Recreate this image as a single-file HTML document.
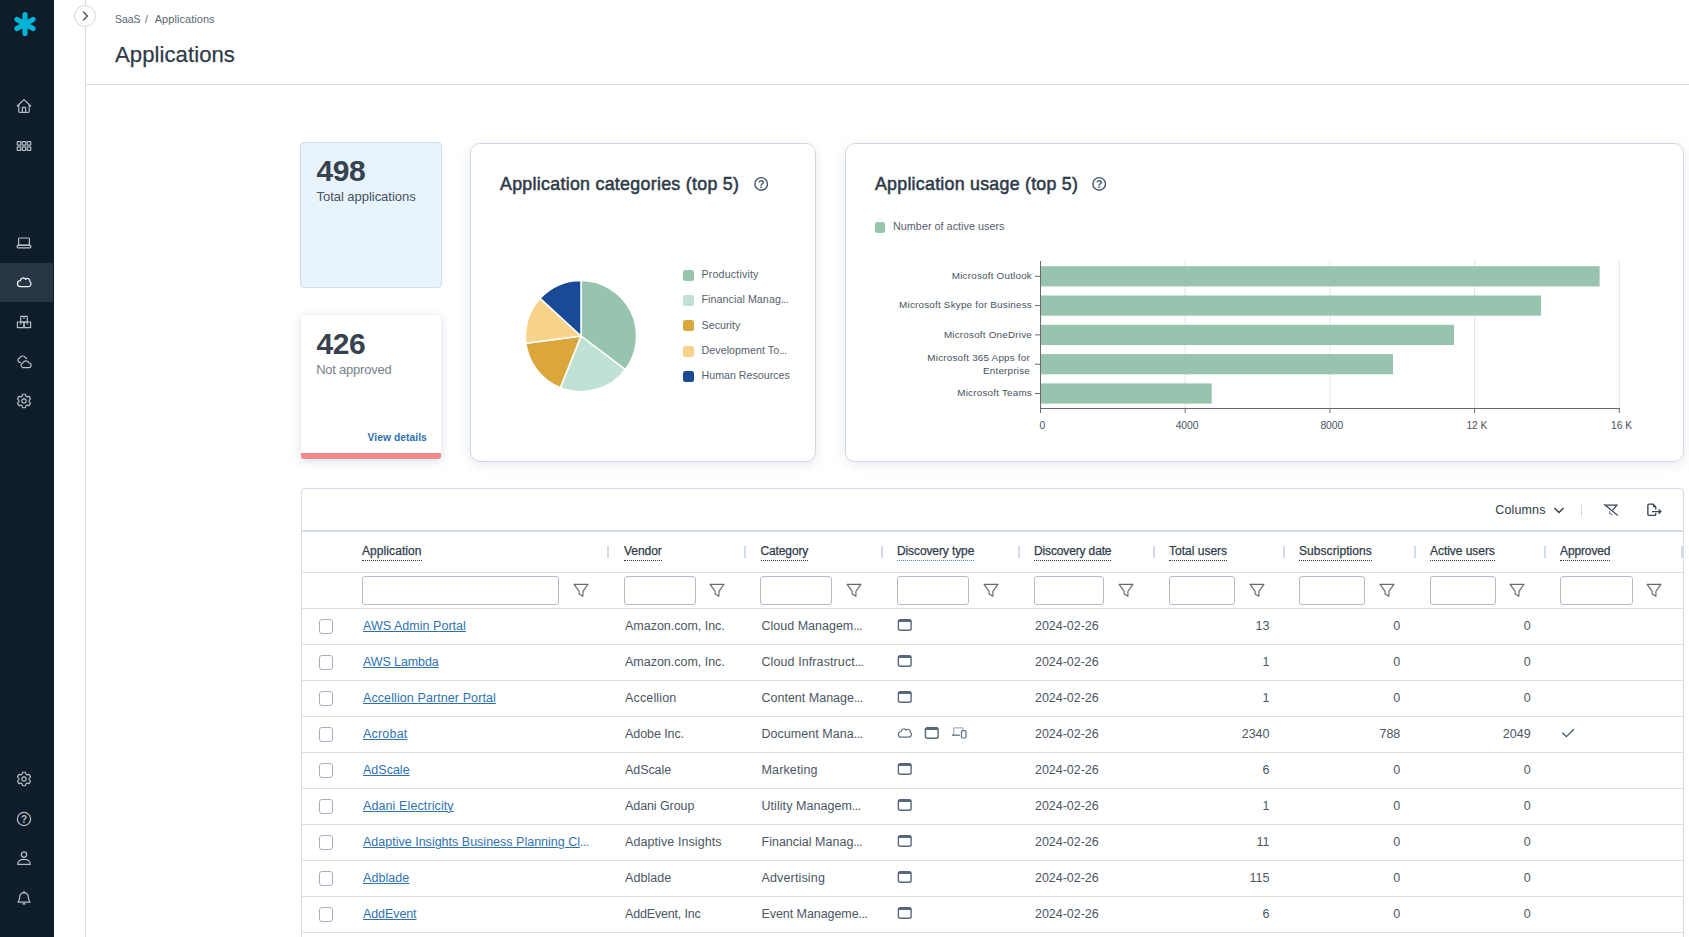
<!DOCTYPE html>
<html><head><meta charset="utf-8">
<style>
*{box-sizing:border-box;margin:0;padding:0}
html,body{width:1689px;height:937px;overflow:hidden;background:#fff;font-family:"Liberation Sans",sans-serif;color:#2f3b49}
.abs{position:absolute}
#side{position:absolute;left:0;top:0;width:54px;height:937px;background:#0f1c2a}
#side .act{position:absolute;left:0;top:263px;width:53px;height:39px;background:#273544}
#side svg{position:absolute;overflow:visible}
#vline{position:absolute;left:85px;top:0;width:1px;height:937px;background:#d3dbe6}
#hline{position:absolute;left:86px;top:84px;width:1603px;height:1px;background:#d3dbe6}
#exp{position:absolute;left:74px;top:5px;width:22px;height:22px;border-radius:50%;background:#fff;border:1px solid #d3dbe6}
.t{position:absolute;white-space:nowrap;line-height:1}
</style></head><body>
<div id="side">
<div class="act"></div><svg style="left:12.5px;top:11px" width="24" height="26" viewBox="-12 -13 24 26" stroke="#00b3d7" stroke-width="5.2" stroke-linecap="round"><path d="M0 -9.4 V9.4 M-8 -4.6 L8 4.6 M-8 4.6 L8 -4.6"/></svg><svg style="left:16px;top:98.0px" width="16" height="16" viewBox="0 0 16 16" fill="none" stroke="#b9bfc7" stroke-width="1.2" stroke-linejoin="round" stroke-linecap="round"><path d="M1.3 8 L8 1.6 L14.7 8"/><path d="M2.8 7 V13.2 Q2.8 14.4 4 14.4 H12 Q13.2 14.4 13.2 13.2 V7"/><path d="M6.4 14.2 V9.4 H9.6 V14.2"/></svg><svg style="left:16px;top:138.0px" width="16" height="16" viewBox="0 0 16 16" fill="none" stroke="#b9bfc7" stroke-width="1.2" stroke-linejoin="round" stroke-linecap="round"><rect x="1.2" y="3.6" width="3.6" height="3.6" rx=".6"/><rect x="6.2" y="3.6" width="3.6" height="3.6" rx=".6"/><rect x="11.2" y="3.6" width="3.6" height="3.6" rx=".6"/><rect x="1.2" y="8.8" width="3.6" height="3.6" rx=".6"/><rect x="6.2" y="8.8" width="3.6" height="3.6" rx=".6"/><rect x="11.2" y="8.8" width="3.6" height="3.6" rx=".6"/></svg><svg style="left:16px;top:235.0px" width="16" height="16" viewBox="0 0 16 16" fill="none" stroke="#b9bfc7" stroke-width="1.2" stroke-linejoin="round" stroke-linecap="round"><rect x="2.6" y="3" width="10.8" height="7.2" rx=".8"/><rect x="1.2" y="10.4" width="13.6" height="2.4" rx=".8"/></svg><svg style="left:15.9px;top:275.5px" width="17.7" height="12.5" viewBox="0 0 17 12" fill="none" stroke="#f2f3f5" stroke-width="1.2" stroke-linejoin="round"><path d="M4.3 10.2 H11.9 A2.7 2.7 0 0 0 13.3 5.3 A2.35 2.35 0 0 0 9.2 3.2 A2.7 2.7 0 0 0 4.2 4.5 A2.85 2.85 0 0 0 4.3 10.2 Z"/></svg><svg style="left:16px;top:314.0px" width="16" height="16" viewBox="0 0 16 16" fill="none" stroke="#b9bfc7" stroke-width="1.2" stroke-linejoin="round" stroke-linecap="round"><rect x="1.4" y="8" width="6.6" height="5.6"/><rect x="8" y="8" width="6.6" height="5.6"/><rect x="4.7" y="2.4" width="6.6" height="5.6"/><path d="M4.7 8 V10 M11.3 8 V10 M8 2.4 V4.4"/></svg><svg style="left:16px;top:354.0px" width="16" height="16" viewBox="0 0 16 16" fill="none" stroke="#b9bfc7" stroke-width="1.2" stroke-linejoin="round" stroke-linecap="round"><path d="M4.6 8.3 H3.6 A2.3 2.3 0 0 1 3.9 3.8 A3 3 0 0 1 9.3 3.6 A2.2 2.2 0 0 1 10.6 4.6"/><path d="M6.9 13.6 H12.6 A2.3 2.3 0 0 0 12.9 9 A3.1 3.1 0 0 0 7.1 8.8 A2.45 2.45 0 0 0 6.9 13.6 Z"/></svg><svg style="left:16px;top:393.0px" width="16" height="16" viewBox="0 0 16 16" fill="none" stroke="#b9bfc7" stroke-width="1.2" stroke-linejoin="round" stroke-linecap="round"><path d="M6.00 3.31 L6.49 1.27 L9.51 1.27 L10.00 3.31 L11.06 3.92 L13.08 3.33 L14.58 5.94 L13.06 7.39 L13.06 8.61 L14.58 10.06 L13.08 12.67 L11.06 12.08 L10.00 12.69 L9.51 14.73 L6.49 14.73 L6.00 12.69 L4.94 12.08 L2.92 12.67 L1.42 10.06 L2.94 8.61 L2.94 7.39 L1.42 5.94 L2.92 3.33 L4.94 3.92 Z"/><circle cx="8" cy="8" r="2.1"/></svg><svg style="left:16px;top:771.0px" width="16" height="16" viewBox="0 0 16 16" fill="none" stroke="#b9bfc7" stroke-width="1.2" stroke-linejoin="round" stroke-linecap="round"><path d="M6.00 3.31 L6.49 1.27 L9.51 1.27 L10.00 3.31 L11.06 3.92 L13.08 3.33 L14.58 5.94 L13.06 7.39 L13.06 8.61 L14.58 10.06 L13.08 12.67 L11.06 12.08 L10.00 12.69 L9.51 14.73 L6.49 14.73 L6.00 12.69 L4.94 12.08 L2.92 12.67 L1.42 10.06 L2.94 8.61 L2.94 7.39 L1.42 5.94 L2.92 3.33 L4.94 3.92 Z"/><circle cx="8" cy="8" r="2.1"/></svg><svg style="left:16px;top:811.0px" width="16" height="16" viewBox="0 0 16 16" fill="none" stroke="#b9bfc7" stroke-width="1.2" stroke-linejoin="round" stroke-linecap="round"><circle cx="8" cy="8" r="6.6"/><text x="8" y="11.6" font-size="10" font-weight="bold" text-anchor="middle" fill="#b9bfc7" stroke="none" font-family="Liberation Sans">?</text></svg><svg style="left:16px;top:850.0px" width="16" height="16" viewBox="0 0 16 16" fill="none" stroke="#b9bfc7" stroke-width="1.2" stroke-linejoin="round" stroke-linecap="round"><circle cx="8" cy="4.6" r="2.7"/><path d="M1.8 14.4 Q1.8 9.4 8 9.4 Q14.2 9.4 14.2 14.4 Z"/></svg><svg style="left:16px;top:890.0px" width="16" height="16" viewBox="0 0 16 16" fill="none" stroke="#b9bfc7" stroke-width="1.2" stroke-linejoin="round" stroke-linecap="round"><path d="M2 12.2 H14 Q12.4 10.6 12.4 7.6 Q12.4 3.2 8 2.6 Q3.6 3.2 3.6 7.6 Q3.6 10.6 2 12.2 Z"/><path d="M6.6 13.8 H9.4 M8 1.4 V2.4"/></svg>
</div>
<div id="vline"></div><div id="hline"></div>
<div id="exp"><svg width="20" height="20" viewBox="0 0 20 20" style="position:absolute;left:0;top:0"><path d="M8.2 5.6 L12.4 10 L8.2 14.4" fill="none" stroke="#3a4654" stroke-width="1.3"/></svg></div>
<div class="t" id="bc1" style="letter-spacing:-0.047px;/*fit*/left:115px;top:14px;font-size:10.5px;color:#5b6672">SaaS</div>
<div class="t" id="bc2" style="left:145px;top:14px;font-size:10.5px;color:#5b6672">/</div>
<div class="t" id="bc3" style="letter-spacing:0.056px;/*fit*/left:154.7px;top:13.7px;font-size:11px;color:#5b6672">Applications</div>
<div class="t" id="title" style="letter-spacing:0.051px;/*fit*/left:115px;top:44px;font-size:22.15px;-webkit-text-stroke:.25px #2f3b49;color:#2f3b49">Applications</div>

<style>
#c1{position:absolute;left:300px;top:142px;width:142px;height:146px;background:#e9f3fc;border:1px solid #d3deea;border-radius:4px}
#c2{position:absolute;left:301px;top:315px;width:140px;height:144px;background:#fff;border-radius:3px;box-shadow:0 2px 10px rgba(60,80,130,.2);overflow:hidden}
#c2 .bar{position:absolute;left:0;bottom:0;width:100%;height:5.6px;background:#f0898c}
.card{position:absolute;background:#fff;border:1px solid #d3d9e2;border-radius:10px;box-shadow:0 3px 12px rgba(70,90,130,.13)}
.big{font-size:30px;letter-spacing:-.45px;font-weight:bold;color:#37424f}
.h2{font-size:17.8px;font-weight:normal;color:#2f3b49;-webkit-text-stroke:.55px #2f3b49}
.leg{font-size:10.7px;color:#56616d}
.sw{position:absolute;width:11px;height:11px;border-radius:2.5px}
</style>
<div id="c1"></div>
<div class="t big" id="n498" style="left:316.5px;top:156.3px">498</div>
<div class="t" id="ta" style="letter-spacing:-0.035px;/*fit*/left:316.5px;top:189.6px;font-size:13px;color:#47525e">Total applications</div>
<div id="c2"><div class="bar"></div></div>
<div class="t big" id="n426" style="left:316.5px;top:328.6px">426</div>
<div class="t" id="na" style="letter-spacing:-0.230px;/*fit*/left:316.2px;top:362.5px;font-size:13px;color:#77818c">Not approved</div>
<div class="t" id="vd" style="letter-spacing:0.036px;/*fit*/left:367.6px;top:432.8px;font-size:10.3px;font-weight:bold;color:#2f6fb0">View details</div>

<div class="card" id="pc" style="left:470px;top:143px;width:346px;height:319px"></div>
<div class="t h2" id="pt" style="letter-spacing:0.297px;/*fit*/left:500px;top:176px">Application categories (top 5)</div>
<svg class="abs" style="left:753px;top:176px" width="16" height="16" viewBox="0 0 16 16"><circle cx="8.2" cy="7.9" r="6.3" fill="none" stroke="#46566a" stroke-width="1.4"/><text x="8.2" y="11.5" font-size="10.5" font-weight="bold" text-anchor="middle" fill="#46566a" font-family="Liberation Sans">?</text></svg>
<svg class="abs" id="pie" style="left:520.7px;top:276.1px" width="120" height="120" viewBox="-60 -60 120 120"><path d="M0 0 L0.00 -55.60 A55.6 55.6 0 0 1 44.29 33.62 Z" fill="#96c4ae" stroke="#fff" stroke-width="1.5" stroke-linejoin="round"/><path d="M0 0 L44.29 33.62 A55.6 55.6 0 0 1 -20.65 51.62 Z" fill="#bfe2d4" stroke="#fff" stroke-width="1.5" stroke-linejoin="round"/><path d="M0 0 L-20.65 51.62 A55.6 55.6 0 0 1 -55.12 7.26 Z" fill="#dba63c" stroke="#fff" stroke-width="1.5" stroke-linejoin="round"/><path d="M0 0 L-55.12 7.26 A55.6 55.6 0 0 1 -40.93 -37.63 Z" fill="#f6d28a" stroke="#fff" stroke-width="1.5" stroke-linejoin="round"/><path d="M0 0 L-40.93 -37.63 A55.6 55.6 0 0 1 -0.00 -55.60 Z" fill="#184a98" stroke="#fff" stroke-width="1.5" stroke-linejoin="round"/></svg>
<div class="sw" style="left:683px;top:270px;background:#96c4ae"></div><div class="t leg" id="l1" style="letter-spacing:0.154px;/*fit*/left:701.5px;top:269px">Productivity</div>
<div class="sw" style="left:683px;top:295px;background:#bfe2d4"></div><div class="t leg" id="l2" style="letter-spacing:0.065px;/*fit*/left:701.5px;top:294px">Financial Manag<span style="letter-spacing:-.6px">...</span></div>
<div class="sw" style="left:683px;top:320px;background:#dba63c"></div><div class="t leg" id="l3" style="letter-spacing:0.036px;/*fit*/left:701.5px;top:320px">Security</div>
<div class="sw" style="left:683px;top:345.8px;background:#f6d28a"></div><div class="t leg" id="l4" style="letter-spacing:0.050px;/*fit*/left:701.5px;top:345px">Development To<span style="letter-spacing:-.6px">...</span></div>
<div class="sw" style="left:683px;top:371px;background:#184a98"></div><div class="t leg" id="l5" style="letter-spacing:-0.008px;/*fit*/left:701.5px;top:370px">Human Resources</div>

<div class="card" id="bcard" style="left:845px;top:143px;width:839px;height:319px"></div>
<div class="t h2" id="bt" style="letter-spacing:0.259px;/*fit*/left:875px;top:176px">Application usage (top 5)</div>
<svg class="abs" style="left:1091px;top:176px" width="16" height="16" viewBox="0 0 16 16"><circle cx="8.2" cy="7.9" r="6.3" fill="none" stroke="#46566a" stroke-width="1.4"/><text x="8.2" y="11.5" font-size="10.5" font-weight="bold" text-anchor="middle" fill="#46566a" font-family="Liberation Sans">?</text></svg>
<div class="sw" style="left:875px;top:222px;width:10px;background:#96c4ae"></div><div class="t leg" id="bl" style="letter-spacing:0.022px;/*fit*/left:893px;top:221px;font-size:10.8px">Number of active users</div>
<svg class="abs" style="left:0;top:0" width="1689" height="937"><rect x="1184.7" y="261" width="1" height="147" fill="#e0e3e9"/><rect x="1329.4" y="261" width="1" height="147" fill="#e0e3e9"/><rect x="1474.1" y="261" width="1" height="147" fill="#e0e3e9"/><rect x="1618.8" y="261" width="1" height="147" fill="#e0e3e9"/><rect x="1041" y="266.2" width="558.6" height="20.2" fill="#97c4ae"/><rect x="1035" y="275.8" width="6" height="1" fill="#6a6a6a"/><rect x="1041" y="295.5" width="500.0" height="20.2" fill="#97c4ae"/><rect x="1035" y="305.1" width="6" height="1" fill="#6a6a6a"/><rect x="1041" y="324.8" width="413.0" height="20.2" fill="#97c4ae"/><rect x="1035" y="334.4" width="6" height="1" fill="#6a6a6a"/><rect x="1041" y="354.1" width="352.0" height="20.2" fill="#97c4ae"/><rect x="1035" y="363.7" width="6" height="1" fill="#6a6a6a"/><rect x="1041" y="383.4" width="170.7" height="20.2" fill="#97c4ae"/><rect x="1035" y="393.0" width="6" height="1" fill="#6a6a6a"/><rect x="1040" y="261" width="1" height="148" fill="#6a6a6a"/><rect x="1040" y="408" width="580" height="1" fill="#6a6a6a"/><rect x="1040.0" y="408" width="1" height="5" fill="#6a6a6a"/><rect x="1184.7" y="408" width="1" height="5" fill="#6a6a6a"/><rect x="1329.4" y="408" width="1" height="5" fill="#6a6a6a"/><rect x="1474.1" y="408" width="1" height="5" fill="#6a6a6a"/><rect x="1618.8" y="408" width="1" height="5" fill="#6a6a6a"/></svg><style>.yl{position:absolute;right:657px;text-align:right;font-size:9.9px;letter-spacing:.2px;color:#47525e;line-height:13px;white-space:nowrap}.xl{position:absolute;font-size:10.3px;color:#47525e;top:421.2px;white-space:nowrap;line-height:1;letter-spacing:-.05px}</style><div class="yl" id="yl0" style="top:269.2px">Microsoft Outlook</div><div class="yl" id="yl1" style="top:297.9px">Microsoft Skype for Business</div><div class="yl" id="yl2" style="top:327.8px">Microsoft OneDrive</div><div class="yl" id="yl3" style="top:350.9px;right:659px">Microsoft 365 Apps for<br>Enterprise</div><div class="yl" id="yl4" style="top:386.4px">Microsoft Teams</div><div class="xl" id="xl0" style="left:1039.5px">0</div><div class="xl" id="xl1" style="left:1175.7px">4000</div><div class="xl" id="xl2" style="left:1320.4px">8000</div><div class="xl" id="xl3" style="left:1466.4px">12 K</div><div class="xl" id="xl4" style="left:1611px">16 K</div>

<style>
#tbl{position:absolute;left:301px;top:488px;width:1383px;height:460px;border:1px solid #d3dbe6;border-radius:4px 4px 0 0;background:#fff}
.hl{position:absolute;left:302px;width:1381px;height:1px;background:#d9dfe8}
.sep{position:absolute;top:546px;width:2px;height:12px;background:#d3dbe8}
.th{position:absolute;top:544px;font-size:12px;color:#2f3b49;white-space:nowrap;line-height:14px;border-bottom:1px dotted #2f3b49;padding-bottom:2px;-webkit-text-stroke:.25px #2f3b49}
.fi{position:absolute;top:576px;height:29px;border:1px solid #b3bcc8;border-radius:3px;background:#fff}
.fic{position:absolute;top:583px}
.cb{position:absolute;left:319px;width:14px;height:14.5px;border:1px solid #a3b0be;border-radius:3px;background:#fff}
.td{position:absolute;font-size:12.5px;color:#4b5663;white-space:nowrap;line-height:16px}
.lk{color:#2f72b0;text-decoration:underline;text-decoration-thickness:1px;text-underline-offset:1.2px}
.num{text-align:right}
</style>
<div id="tbl"></div>
<div class="hl" style="top:530px;height:2px;background:#d3dbe6"></div>
<div class="hl" style="top:572px"></div>
<div class="hl" style="top:608px"></div>
<div class="t" id="cols" style="letter-spacing:0.139px;/*fit*/left:1495.3px;top:503.8px;font-size:12.5px;color:#2f3b49">Columns</div>
<svg class="abs" style="left:1553px;top:505px" width="12" height="10" viewBox="0 0 12 10"><path d="M1.5 3 L6 7.5 L10.5 3" fill="none" stroke="#2f3b49" stroke-width="1.4"/></svg>
<div class="abs" style="left:1581px;top:503px;width:1px;height:14px;background:#d3dbe6"></div>
<svg class="abs" id="icf" style="left:1602px;top:502px" width="17" height="17" viewBox="0 0 17 17" fill="none" stroke="#36424f" stroke-width="1.2"><path d="M3.9 3.2 H14.9 L10.6 8.4"/><path d="M7.6 9.2 V11.4 L10.4 12.8" stroke="#7a8490"/><path d="M2.1 2.2 L15.9 13.6"/></svg>
<svg class="abs" id="ice" style="left:1645px;top:501px" width="18" height="17" viewBox="0 0 18 17" fill="none" stroke="#36424f" stroke-width="1.3"><path d="M10.75 11.9 V13.2 Q10.75 14.45 9.5 14.45 H4.1 Q2.85 14.45 2.85 13.2 V4.4 Q2.85 3.15 4.1 3.15 H8.2 L10.75 5.9 V8.6"/><path d="M8.2 3.4 V5.9 H10.5 Z" fill="#36424f" stroke-width=".6"/><path d="M6.9 10.6 H15.6 M13.6 8.4 L15.9 10.6 L13.6 12.8"/></svg>
<div class="th" id="th0" style="letter-spacing:0.080px;/*fit*/left:362.0px">Application</div><div class="sep" style="left:607.0px"></div><div class="fi" style="left:362.0px;width:197px"></div><svg class="fic" style="left:572.5px" width="16" height="15" viewBox="0 0 16 15"><path d="M1.1 1.4 H14.9 L9.9 8.4 V13.2 L6.1 10.9 V8.4 Z" fill="none" stroke="#686868" stroke-width="1.15" stroke-linejoin="round"/></svg><div class="th" id="th1" style="letter-spacing:-0.058px;/*fit*/left:624.0px">Vendor</div><div class="sep" style="left:744.0px"></div><div class="fi" style="left:624.0px;width:72px"></div><svg class="fic" style="left:709.0px" width="16" height="15" viewBox="0 0 16 15"><path d="M1.1 1.4 H14.9 L9.9 8.4 V13.2 L6.1 10.9 V8.4 Z" fill="none" stroke="#686868" stroke-width="1.15" stroke-linejoin="round"/></svg><div class="th" id="th2" style="letter-spacing:-0.125px;/*fit*/left:760.5px">Category</div><div class="sep" style="left:881.0px"></div><div class="fi" style="left:760px;width:72px"></div><svg class="fic" style="left:845.7px" width="16" height="15" viewBox="0 0 16 15"><path d="M1.1 1.4 H14.9 L9.9 8.4 V13.2 L6.1 10.9 V8.4 Z" fill="none" stroke="#686868" stroke-width="1.15" stroke-linejoin="round"/></svg><div class="th" id="th3" style="border-bottom-color:#4a7fc0;letter-spacing:-0.107px;/*fit*/left:897.0px">Discovery type</div><div class="sep" style="left:1018.0px"></div><div class="fi" style="left:897.0px;width:72px"></div><svg class="fic" style="left:983.0px" width="16" height="15" viewBox="0 0 16 15"><path d="M1.1 1.4 H14.9 L9.9 8.4 V13.2 L6.1 10.9 V8.4 Z" fill="none" stroke="#686868" stroke-width="1.15" stroke-linejoin="round"/></svg><div class="th" id="th4" style="letter-spacing:-0.141px;/*fit*/left:1034.0px">Discovery date</div><div class="sep" style="left:1153.0px"></div><div class="fi" style="left:1034.0px;width:70px"></div><svg class="fic" style="left:1118.0px" width="16" height="15" viewBox="0 0 16 15"><path d="M1.1 1.4 H14.9 L9.9 8.4 V13.2 L6.1 10.9 V8.4 Z" fill="none" stroke="#686868" stroke-width="1.15" stroke-linejoin="round"/></svg><div class="th" id="th5" style="letter-spacing:0.006px;/*fit*/left:1169.0px">Total users</div><div class="sep" style="left:1283.0px"></div><div class="fi" style="left:1169.0px;width:66px"></div><svg class="fic" style="left:1248.5px" width="16" height="15" viewBox="0 0 16 15"><path d="M1.1 1.4 H14.9 L9.9 8.4 V13.2 L6.1 10.9 V8.4 Z" fill="none" stroke="#686868" stroke-width="1.15" stroke-linejoin="round"/></svg><div class="th" id="th6" style="letter-spacing:0.058px;/*fit*/left:1299.0px">Subscriptions</div><div class="sep" style="left:1414.0px"></div><div class="fi" style="left:1299.0px;width:66px"></div><svg class="fic" style="left:1379.0px" width="16" height="15" viewBox="0 0 16 15"><path d="M1.1 1.4 H14.9 L9.9 8.4 V13.2 L6.1 10.9 V8.4 Z" fill="none" stroke="#686868" stroke-width="1.15" stroke-linejoin="round"/></svg><div class="th" id="th7" style="letter-spacing:-0.047px;/*fit*/left:1430.0px">Active users</div><div class="sep" style="left:1544.0px"></div><div class="fi" style="left:1430.0px;width:66px"></div><svg class="fic" style="left:1509.4px" width="16" height="15" viewBox="0 0 16 15"><path d="M1.1 1.4 H14.9 L9.9 8.4 V13.2 L6.1 10.9 V8.4 Z" fill="none" stroke="#686868" stroke-width="1.15" stroke-linejoin="round"/></svg><div class="th" id="th8" style="letter-spacing:-0.122px;/*fit*/left:1560.0px">Approved</div><div class="sep" style="left:1681.0px"></div><div class="fi" style="left:1560.0px;width:73px"></div><svg class="fic" style="left:1646.0px" width="16" height="15" viewBox="0 0 16 15"><path d="M1.1 1.4 H14.9 L9.9 8.4 V13.2 L6.1 10.9 V8.4 Z" fill="none" stroke="#686868" stroke-width="1.15" stroke-linejoin="round"/></svg><div class="hl" style="top:644px"></div><div class="cb" style="top:619.3px"></div><div class="td lk" id="r0c0" style="letter-spacing:0.034px;/*fit*/left:363px;top:618px">AWS Admin Portal</div><div class="td" id="r0c1" style="letter-spacing:-0.015px;/*fit*/left:625px;top:618px">Amazon.com, Inc.</div><div class="td" id="r0c2" style="letter-spacing:0.004px;/*fit*/left:761.5px;top:618px">Cloud Managem<span style="letter-spacing:-.6px">...</span></div><svg class="abs" style="left:897.2px;top:618.2px" width="16" height="14" viewBox="0 0 16 14"><rect x="1.4" y="1.6" width="12.7" height="10.6" rx="1.8" fill="none" stroke="#56677a" stroke-width="1.4"/><path d="M1.4 3.9 V3.4 Q1.4 1.6 3.2 1.6 H12.3 Q14.1 1.6 14.1 3.4 V3.9 Z" fill="#56677a"/></svg><div class="td" id="r0c4" style="letter-spacing:-0.035px;/*fit*/left:1035px;top:618px">2024-02-26</div><div class="td num" id="r0c5" style="right:419.5px;top:618px">13</div><div class="td num" id="r0c6" style="right:288.7px;top:618px">0</div><div class="td num" id="r0c7" style="right:158.4px;top:618px">0</div><div class="hl" style="top:680px"></div><div class="cb" style="top:655.3px"></div><div class="td lk" id="r1c0" style="letter-spacing:-0.106px;/*fit*/left:363px;top:654px">AWS Lambda</div><div class="td" id="r1c1" style="letter-spacing:-0.015px;/*fit*/left:625px;top:654px">Amazon.com, Inc.</div><div class="td" id="r1c2" style="letter-spacing:0.093px;/*fit*/left:761.5px;top:654px">Cloud Infrastruct<span style="letter-spacing:-.6px">...</span></div><svg class="abs" style="left:897.2px;top:654.2px" width="16" height="14" viewBox="0 0 16 14"><rect x="1.4" y="1.6" width="12.7" height="10.6" rx="1.8" fill="none" stroke="#56677a" stroke-width="1.4"/><path d="M1.4 3.9 V3.4 Q1.4 1.6 3.2 1.6 H12.3 Q14.1 1.6 14.1 3.4 V3.9 Z" fill="#56677a"/></svg><div class="td" id="r1c4" style="letter-spacing:-0.035px;/*fit*/left:1035px;top:654px">2024-02-26</div><div class="td num" id="r1c5" style="right:419.5px;top:654px">1</div><div class="td num" id="r1c6" style="right:288.7px;top:654px">0</div><div class="td num" id="r1c7" style="right:158.4px;top:654px">0</div><div class="hl" style="top:716px"></div><div class="cb" style="top:691.3px"></div><div class="td lk" id="r2c0" style="letter-spacing:0.095px;/*fit*/left:363px;top:690px">Accellion Partner Portal</div><div class="td" id="r2c1" style="letter-spacing:0.152px;/*fit*/left:625px;top:690px">Accellion</div><div class="td" id="r2c2" style="letter-spacing:0.002px;/*fit*/left:761.5px;top:690px">Content Manage<span style="letter-spacing:-.6px">...</span></div><svg class="abs" style="left:897.2px;top:690.2px" width="16" height="14" viewBox="0 0 16 14"><rect x="1.4" y="1.6" width="12.7" height="10.6" rx="1.8" fill="none" stroke="#56677a" stroke-width="1.4"/><path d="M1.4 3.9 V3.4 Q1.4 1.6 3.2 1.6 H12.3 Q14.1 1.6 14.1 3.4 V3.9 Z" fill="#56677a"/></svg><div class="td" id="r2c4" style="letter-spacing:-0.035px;/*fit*/left:1035px;top:690px">2024-02-26</div><div class="td num" id="r2c5" style="right:419.5px;top:690px">1</div><div class="td num" id="r2c6" style="right:288.7px;top:690px">0</div><div class="td num" id="r2c7" style="right:158.4px;top:690px">0</div><div class="hl" style="top:752px"></div><div class="cb" style="top:727.3px"></div><div class="td lk" id="r3c0" style="letter-spacing:0.201px;/*fit*/left:363px;top:726px">Acrobat</div><div class="td" id="r3c1" style="letter-spacing:-0.077px;/*fit*/left:625px;top:726px">Adobe Inc.</div><div class="td" id="r3c2" style="letter-spacing:0.047px;/*fit*/left:761.5px;top:726px">Document Mana<span style="letter-spacing:-.6px">...</span></div><svg class="abs" style="left:897px;top:727px" width="17" height="12" viewBox="0 0 17 12"><path d="M4.3 10.2 H11.9 A2.7 2.7 0 0 0 13.3 5.3 A2.35 2.35 0 0 0 9.2 3.2 A2.7 2.7 0 0 0 4.2 4.5 A2.85 2.85 0 0 0 4.3 10.2 Z" fill="none" stroke="#5d6e80" stroke-width="1.2"/></svg><svg class="abs" style="left:923.9px;top:726px" width="16" height="14" viewBox="0 0 16 14"><rect x="1.4" y="1.6" width="12.7" height="10.6" rx="1.8" fill="none" stroke="#56677a" stroke-width="1.4"/><path d="M1.4 3.9 V3.4 Q1.4 1.6 3.2 1.6 H12.3 Q14.1 1.6 14.1 3.4 V3.9 Z" fill="#56677a"/></svg><svg class="abs" style="left:951px;top:726px" width="17" height="14" viewBox="0 0 17 14"><path d="M2.7 9 V2.6 Q2.7 1.8 3.5 1.8 H11 Q11.9 1.8 11.9 2.6 V4" fill="none" stroke="#a3adb9" stroke-width="1.2"/><path d="M1 9.2 H8.8" stroke="#5d6e80" stroke-width="1.3"/><rect x="10.5" y="4.7" width="4.5" height="7.3" rx="1.1" fill="#fff" stroke="#5d6e80" stroke-width="1.2"/></svg><div class="td" id="r3c4" style="letter-spacing:-0.035px;/*fit*/left:1035px;top:726px">2024-02-26</div><div class="td num" id="r3c5" style="right:419.5px;top:726px">2340</div><div class="td num" id="r3c6" style="right:288.7px;top:726px">788</div><div class="td num" id="r3c7" style="right:158.4px;top:726px">2049</div><svg class="abs" style="left:1561px;top:728px" width="14" height="12" viewBox="0 0 14 12"><path d="M1.4 4.7 L5.4 8.7 L12.9 1.2" fill="none" stroke="#46566a" stroke-width="1.3"/></svg><div class="hl" style="top:788px"></div><div class="cb" style="top:763.3px"></div><div class="td lk" id="r4c0" style="letter-spacing:0.005px;/*fit*/left:363px;top:762px">AdScale</div><div class="td" id="r4c1" style="letter-spacing:-0.080px;/*fit*/left:625px;top:762px">AdScale</div><div class="td" id="r4c2" style="letter-spacing:0.145px;/*fit*/left:761.5px;top:762px">Marketing</div><svg class="abs" style="left:897.2px;top:762.2px" width="16" height="14" viewBox="0 0 16 14"><rect x="1.4" y="1.6" width="12.7" height="10.6" rx="1.8" fill="none" stroke="#56677a" stroke-width="1.4"/><path d="M1.4 3.9 V3.4 Q1.4 1.6 3.2 1.6 H12.3 Q14.1 1.6 14.1 3.4 V3.9 Z" fill="#56677a"/></svg><div class="td" id="r4c4" style="letter-spacing:-0.035px;/*fit*/left:1035px;top:762px">2024-02-26</div><div class="td num" id="r4c5" style="right:419.5px;top:762px">6</div><div class="td num" id="r4c6" style="right:288.7px;top:762px">0</div><div class="td num" id="r4c7" style="right:158.4px;top:762px">0</div><div class="hl" style="top:824px"></div><div class="cb" style="top:799.3px"></div><div class="td lk" id="r5c0" style="letter-spacing:0.104px;/*fit*/left:363px;top:798px">Adani Electricity</div><div class="td" id="r5c1" style="letter-spacing:-0.081px;/*fit*/left:625px;top:798px">Adani Group</div><div class="td" id="r5c2" style="letter-spacing:0.058px;/*fit*/left:761.5px;top:798px">Utility Managem<span style="letter-spacing:-.6px">...</span></div><svg class="abs" style="left:897.2px;top:798.2px" width="16" height="14" viewBox="0 0 16 14"><rect x="1.4" y="1.6" width="12.7" height="10.6" rx="1.8" fill="none" stroke="#56677a" stroke-width="1.4"/><path d="M1.4 3.9 V3.4 Q1.4 1.6 3.2 1.6 H12.3 Q14.1 1.6 14.1 3.4 V3.9 Z" fill="#56677a"/></svg><div class="td" id="r5c4" style="letter-spacing:-0.035px;/*fit*/left:1035px;top:798px">2024-02-26</div><div class="td num" id="r5c5" style="right:419.5px;top:798px">1</div><div class="td num" id="r5c6" style="right:288.7px;top:798px">0</div><div class="td num" id="r5c7" style="right:158.4px;top:798px">0</div><div class="hl" style="top:860px"></div><div class="cb" style="top:835.3px"></div><div class="td lk" id="r6c0" style="letter-spacing:0.007px;/*fit*/left:363px;top:834px">Adaptive Insights Business Planning Cl<span style="letter-spacing:-.6px;display:inline-block;text-decoration:none">...</span></div><div class="td" id="r6c1" style="letter-spacing:0.088px;/*fit*/left:625px;top:834px">Adaptive Insights</div><div class="td" id="r6c2" style="letter-spacing:0.009px;/*fit*/left:761.5px;top:834px">Financial Manag<span style="letter-spacing:-.6px">...</span></div><svg class="abs" style="left:897.2px;top:834.2px" width="16" height="14" viewBox="0 0 16 14"><rect x="1.4" y="1.6" width="12.7" height="10.6" rx="1.8" fill="none" stroke="#56677a" stroke-width="1.4"/><path d="M1.4 3.9 V3.4 Q1.4 1.6 3.2 1.6 H12.3 Q14.1 1.6 14.1 3.4 V3.9 Z" fill="#56677a"/></svg><div class="td" id="r6c4" style="letter-spacing:-0.035px;/*fit*/left:1035px;top:834px">2024-02-26</div><div class="td num" id="r6c5" style="right:419.5px;top:834px">11</div><div class="td num" id="r6c6" style="right:288.7px;top:834px">0</div><div class="td num" id="r6c7" style="right:158.4px;top:834px">0</div><div class="hl" style="top:896px"></div><div class="cb" style="top:871.3px"></div><div class="td lk" id="r7c0" style="letter-spacing:0.075px;/*fit*/left:363px;top:870px">Adblade</div><div class="td" id="r7c1" style="letter-spacing:0.061px;/*fit*/left:625px;top:870px">Adblade</div><div class="td" id="r7c2" style="letter-spacing:0.151px;/*fit*/left:761.5px;top:870px">Advertising</div><svg class="abs" style="left:897.2px;top:870.2px" width="16" height="14" viewBox="0 0 16 14"><rect x="1.4" y="1.6" width="12.7" height="10.6" rx="1.8" fill="none" stroke="#56677a" stroke-width="1.4"/><path d="M1.4 3.9 V3.4 Q1.4 1.6 3.2 1.6 H12.3 Q14.1 1.6 14.1 3.4 V3.9 Z" fill="#56677a"/></svg><div class="td" id="r7c4" style="letter-spacing:-0.035px;/*fit*/left:1035px;top:870px">2024-02-26</div><div class="td num" id="r7c5" style="right:419.5px;top:870px">115</div><div class="td num" id="r7c6" style="right:288.7px;top:870px">0</div><div class="td num" id="r7c7" style="right:158.4px;top:870px">0</div><div class="hl" style="top:932px"></div><div class="cb" style="top:907.3px"></div><div class="td lk" id="r8c0" style="letter-spacing:-0.090px;/*fit*/left:363px;top:906px">AddEvent</div><div class="td" id="r8c1" style="letter-spacing:-0.171px;/*fit*/left:625px;top:906px">AddEvent, Inc</div><div class="td" id="r8c2" style="letter-spacing:-0.065px;/*fit*/left:761.5px;top:906px">Event Manageme<span style="letter-spacing:-.6px">...</span></div><svg class="abs" style="left:897.2px;top:906.2px" width="16" height="14" viewBox="0 0 16 14"><rect x="1.4" y="1.6" width="12.7" height="10.6" rx="1.8" fill="none" stroke="#56677a" stroke-width="1.4"/><path d="M1.4 3.9 V3.4 Q1.4 1.6 3.2 1.6 H12.3 Q14.1 1.6 14.1 3.4 V3.9 Z" fill="#56677a"/></svg><div class="td" id="r8c4" style="letter-spacing:-0.035px;/*fit*/left:1035px;top:906px">2024-02-26</div><div class="td num" id="r8c5" style="right:419.5px;top:906px">6</div><div class="td num" id="r8c6" style="right:288.7px;top:906px">0</div><div class="td num" id="r8c7" style="right:158.4px;top:906px">0</div>

</body></html>
